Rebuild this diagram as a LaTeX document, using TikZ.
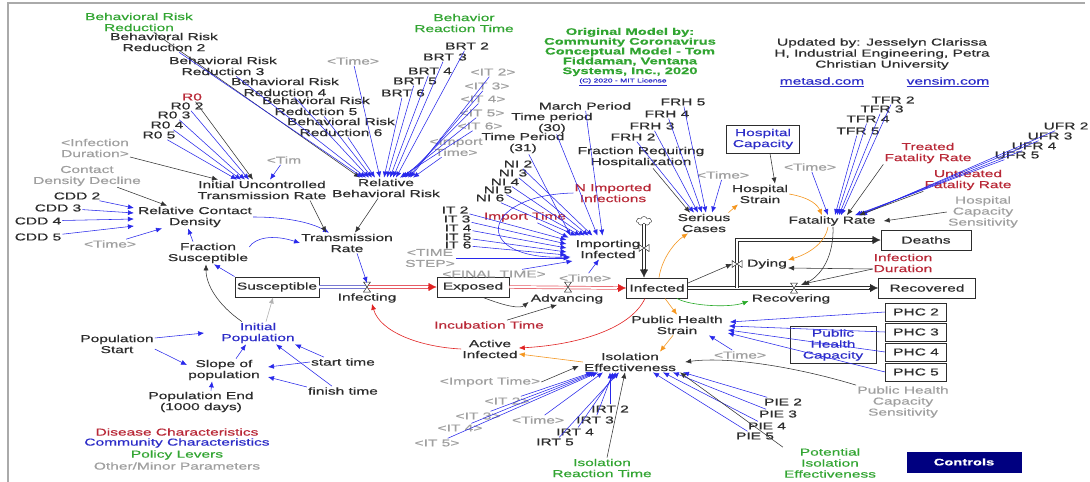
\documentclass[tikz,border=0pt]{standalone}
\usepackage{fontspec}
\setmainfont{Liberation Sans}[FakeStretch=1.55,FakeBold=0.6]
\usetikzlibrary{arrows.meta,shapes.symbols}
\definecolor{cdark}{RGB}{45,45,45}
\definecolor{cred}{RGB}{185,40,55}
\definecolor{cblue}{RGB}{45,45,200}
\definecolor{cgreen}{RGB}{50,165,50}
\definecolor{cgray}{RGB}{160,160,160}
\definecolor{lblue}{RGB}{40,40,235}
\definecolor{corange}{RGB}{245,150,30}
\definecolor{navy}{RGB}{0,0,128}
\definecolor{cframe}{RGB}{170,170,170}
\definecolor{redline}{RGB}{225,35,35}
\definecolor{redpipe}{RGB}{230,90,100}
\definecolor{bluepipe}{RGB}{120,120,210}
\definecolor{gline}{RGB}{40,170,40}
\begin{document}
\begin{tikzpicture}[x=1pt,y=-1pt,
  every node/.style={inner sep=1pt, align=center, text=cdark, font=\fontsize{10}{11}\selectfont},
  rd/.style={text=cred}, bu/.style={text=cblue}, gn/.style={text=cgreen}, gy/.style={text=cgray},
  stock/.style={draw=cdark, line width=0.9pt, minimum height=20pt, inner sep=1pt},
  vbox/.style={draw=cdark, line width=0.7pt, inner sep=1pt},
  ba/.style={draw=lblue, line width=0.55pt, -{Latex[length=6pt,width=5pt]}},
  ka/.style={draw=black!80, line width=0.55pt, -{Latex[length=6pt,width=5pt]}},
  oa/.style={draw=corange, line width=0.6pt, -{Latex[length=6pt,width=5pt]}},
  ra/.style={draw=redline, line width=0.6pt, -{Latex[length=6pt,width=5pt]}},
  ga/.style={draw=gline, line width=0.6pt, -{Latex[length=6pt,width=5pt]}},
  gya/.style={draw=black!30, line width=0.6pt, -{Latex[length=6pt,width=5pt]}},
  pipe/.style={double distance=2pt, line width=0.7pt},
  bigtip/.style={line width=0.3pt, -{Latex[length=8pt,width=8pt]}},
  hv/.pic={\draw[cdark, line width=0.5pt, fill=white] (-3.5,-5)--(3.5,-5)--(-3.5,5)--(3.5,5)--cycle;},
  vv/.pic={\draw[cdark, line width=0.5pt, fill=white] (-5,-3.5)--(-5,3.5)--(5,-3.5)--(5,3.5)--cycle;}
]
\useasboundingbox (0,0) rectangle (1090,482);
\fill[white] (0,0) rectangle (1090,482);
\draw[cframe, line width=1.5pt] (8,482) -- (8,3) -- (1085,3);

% ---------- top-left cluster ----------
\node[gn] (brr) at (139,22) {Behavioral Risk\\Reduction};
\node (brr2) at (164,42) {Behavioral Risk\\Reduction 2};
\node (brr3) at (223,66) {Behavioral Risk\\Reduction 3};
\node (brr4) at (285,87) {Behavioral Risk\\Reduction 4};
\node (brr5) at (316,106) {Behavioral Risk\\Reduction 5};
\node (brr6) at (341,127) {Behavioral Risk\\Reduction 6};
\node[gy] (tma) at (353,61) {<Time>};
\node[gn] (brt) at (464,23) {Behavior\\Reaction Time};
\node (brt2) at (467,46) {BRT 2};
\node (brt3) at (445,57) {BRT 3};
\node (brt4) at (430,71) {BRT 4};
\node (brt5) at (415,81) {BRT 5};
\node (brt6) at (403,93) {BRT 6};
\node[gy] (it2a) at (493,72) {<IT 2>};
\node[gy] (it3a) at (487,86) {<IT 3>};
\node[gy] (it4a) at (483,99) {<IT 4>};
\node[gy] (it5a) at (482,113) {<IT 5>};
\node[gy] (it6a) at (480,126) {<IT 6>};
\node[gy] (impta) at (456,147) {<Import\\Time>};
\node[rd] (r0) at (192,97) {R0};
\node (r02) at (187,106) {R0 2};
\node (r03) at (174,115) {R0 3};
\node (r04) at (167,125) {R0 4};
\node (r05) at (159,135) {R0 5};
\node[gy] (infda) at (95,148) {<Infection\\Duration>};
\node[gy] (tim) at (284,160) {<Tim};
\node (iutr) at (262,190) {Initial Uncontrolled\\Transmission Rate};
\node (rbr) at (386,188) {Relative\\Behavioral Risk};
\node[gy] (cdd) at (87,176) {Contact\\Density Decline};
\node (cdd2) at (77,196) {CDD 2};
\node (cdd3) at (58,208) {CDD 3};
\node (cdd4) at (38,221) {CDD 4};
\node (cdd5) at (38,237) {CDD 5};
\node (rcd) at (195,217) {Relative Contact\\Density};
\node[gy] (tmb) at (110,244) {<Time>};
\node (fs) at (208,253) {Fraction\\Susceptible};
\node (tr) at (347,243) {Transmission\\Rate};

% ---------- stocks and flows ----------
\node[stock, minimum width=84pt] (sus) at (277,287) {Susceptible};
\node[stock, minimum width=72pt] (exp) at (473,287) {Exposed};
\node[stock, minimum width=61pt] (inf) at (657,288) {Infected};
\node[stock, minimum width=90pt] (dea) at (926,240) {Deaths};
\node[stock, minimum width=97pt] (rec) at (927,288) {Recovered};
\node (infg) at (367,298) {Infecting};
\node (adv) at (567,299) {Advancing};
\node (dy) at (767,264) {Dying};
\node (rcv) at (791,299) {Recovering};
\node (impi) at (608,249) {Importing\\Infected};
\coordinate (vinf) at (367,287);
\coordinate (vadv) at (568,287);
\coordinate (vdy) at (737,264);
\coordinate (vrec) at (794,288);
\coordinate (vimp) at (644,248);
\coordinate (dj) at (737,288);
\coordinate (dk) at (737,240);
\node[cloud, draw=cdark, cloud puffs=7, minimum width=15pt, minimum height=9pt, inner sep=0pt] (cld) at (644,221) {};

\draw[pipe, bluepipe] (sus.east) -- (vinf);
\draw[pipe, redpipe] (vinf) -- ([xshift=-7pt]exp.west);
\draw[bigtip, redline] ([xshift=-9pt]exp.west) -- (exp.west);
\draw[pipe, redpipe] (exp.east) -- ([xshift=-7pt]inf.west);
\draw[bigtip, redline] ([xshift=-9pt]inf.west) -- (inf.west);
\draw[pipe, cdark] (inf.east) -- ([xshift=-7pt]rec.west);
\draw[bigtip, cdark] ([xshift=-9pt]rec.west) -- (rec.west);
\draw[pipe, cdark] (dj) -- (dk) -- ([xshift=-7pt]dea.west);
\draw[bigtip, cdark] ([xshift=-9pt]dea.west) -- (dea.west);
\draw[pipe, cdark] (cld.south) -- ([xshift=-13pt,yshift=7pt]inf.north);
\draw[bigtip, cdark] ([xshift=-13pt,yshift=9pt]inf.north) -- ([xshift=-13pt]inf.north);
\pic at (vinf) {hv};
\pic at (vadv) {hv};
\pic at (vrec) {hv};
\pic at (vdy) {vv};
\pic at (vimp) {vv};

% ---------- top middle ----------
\node[gn, font=\bfseries\fontsize{9.5}{9.8}\selectfont] (om) at (630,52) {Original Model by:\\Community Coronavirus\\Conceptual Model - Tom\\Fiddaman, Ventana\\Systems, Inc., 2020};
\node[bu, font=\fontsize{5.5}{6}\selectfont] (lic) at (623,82) {\underline{(C) 2020 - MIT License}};
\node (tp30) at (552,123) {Time period\\(30)};
\node (tp31) at (523,143) {Time Period\\(31)};
\node (mp) at (585,106) {March Period};
\node (frh5) at (683,102) {FRH 5};
\node (frh4) at (667,114) {FRH 4};
\node (frh3) at (652,126) {FRH 3};
\node (frh2) at (633,137) {FRH 2};
\node (frh) at (641,157) {Fraction Requiring\\Hospitalization};
\node[vbox, bu, minimum width=73pt, minimum height=28pt] (hc) at (763,139) {Hospital\\Capacity};
\node (upd) at (882,54) {Updated by: Jesselyn Clarissa\\H, Industrial Engineering, Petra\\Christian University};
\node[bu] (met) at (822,82) {\underline{metasd.com}};
\node[bu] (ven) at (948,82) {\underline{vensim.com}};
\node (tfr2) at (893,100) {TFR 2};
\node (tfr3) at (882,109) {TFR 3};
\node (tfr4) at (868,119) {TFR 4};
\node (tfr5) at (858,131) {TFR 5};
\node (ufr2) at (1066,126) {UFR 2};
\node (ufr3) at (1050,136) {UFR 3};
\node (ufr4) at (1034,146) {UFR 4};
\node (ufr5) at (1017,155) {UFR 5};
\node[rd] (tfr) at (928,153) {Treated\\Fatality Rate};
\node[rd] (ufr) at (968,180) {Untreated\\Fatality Rate};
\node[gy] (hcs) at (983,212) {Hospital\\Capacity\\Sensitivity};
\node (fr) at (832,221) {Fatality Rate};
\node[gy] (tmc) at (810,167) {<Time>};
\node (hs) at (760,194) {Hospital\\Strain};
\node[gy] (tmd) at (723,175) {<Time>};
\node (sc) at (704,223) {Serious\\Cases};
\node[rd] (nii) at (613,193) {N Imported\\Infections};
\node[rd] (imt) at (525,217) {Import Time};
\node (ni2) at (518,164) {NI 2};
\node (ni3) at (513,173) {NI 3};
\node (ni4) at (505,182) {NI 4};
\node (ni5) at (498,190) {NI 5};
\node (ni6) at (490,198) {NI 6};
\node (it2) at (455,210) {IT 2};
\node (it3) at (457,219) {IT 3};
\node (it4) at (458,228) {IT 4};
\node (it5) at (458,237) {IT 5};
\node (it6) at (458,245) {IT 6};
\node[gy] (ts) at (430,258) {<TIME\\STEP>};
\node[gy] (ft) at (494,274) {<FINAL TIME>};
\node[gy] (tme) at (585,278) {<Time>};
\node[rd] (idur) at (903,263) {Infection\\Duration};

% ---------- lower right ----------
\node[vbox, minimum width=61pt, minimum height=18pt] (phc2) at (916,312) {PHC 2};
\node[vbox, minimum width=61pt, minimum height=18pt] (phc3) at (916,332) {PHC 3};
\node[vbox, minimum width=61pt, minimum height=18pt] (phc4) at (916,352) {PHC 4};
\node[vbox, minimum width=61pt, minimum height=18pt] (phc5) at (916,372) {PHC 5};
\node[vbox, bu, minimum width=86pt, minimum height=37pt] (phcap) at (833,345) {Public\\Health\\Capacity};
\node[gy] (phcs) at (903,402) {Public Health\\Capacity\\Sensitivity};
\node (phs) at (677,325) {Public Health\\Strain};
\node[gy] (tmf) at (740,355) {<Time>};
\node (ie) at (630,362) {Isolation\\Effectiveness};
\node (ai) at (490,349) {Active\\Infected};
\node[rd] (inc) at (489,325) {Incubation Time};
\node[gy] (imptb) at (490,382) {<Import Time>};
\node[gy] (it2b) at (507,401) {<IT 2>};
\node[gy] (it3b) at (478,416) {<IT 3>};
\node[gy] (it4b) at (460,428) {<IT 4>};
\node[gy] (it5b) at (437,443) {<IT 5>};
\node[gy] (tmg) at (538,420) {<Time>};
\node (irt2) at (610,409) {IRT 2};
\node (irt3) at (595,420) {IRT 3};
\node (irt4) at (575,432) {IRT 4};
\node (irt5) at (555,442) {IRT 5};
\node[gn] (irt) at (602,468) {Isolation\\Reaction Time};
\node (pie2) at (783,402) {PIE 2};
\node (pie3) at (778,414) {PIE 3};
\node (pie4) at (767,426) {PIE 4};
\node (pie5) at (755,436) {PIE 5};
\node[gn] (pie) at (830,463) {Potential\\Isolation\\Effectiveness};
\node[fill=navy, text=white, minimum width=115pt, minimum height=21pt, font=\bfseries\fontsize{9.5}{10}\selectfont] (ctrl) at (964,462) {Controls};

% ---------- lower left ----------
\node[rd] (lg1) at (177,432) {Disease Characteristics};
\node[bu] (lg2) at (177,443) {Community Characteristics};
\node[gn] (lg3) at (177,455) {Policy Levers};
\node[gy] (lg4) at (177,466) {Other/Minor Parameters};
\node (ps) at (117,344) {Population\\Start};
\node[bu] (ip) at (258,333) {Initial\\Population};
\node (sp) at (224,370) {Slope of\\population};
\node (st) at (343,362) {start time};
\node (fin) at (343,391) {finish time};
\node (pe) at (201,402) {Population End\\(1000 days)};

% ---------- connectors: Relative Behavioral Risk ----------
\draw[ka] (brr) -- ([xshift=-26pt]rbr.north);
\draw[ba] (brr2) -- ([xshift=-23pt]rbr.north);
\draw[ba] (brr3) -- ([xshift=-20pt]rbr.north);
\draw[ba] (brr4) -- ([xshift=-17pt]rbr.north);
\draw[ba] (brr5) -- ([xshift=-14pt]rbr.north);
\draw[ba] (brr6) -- ([xshift=-11pt]rbr.north);
\draw[ba] (tma) -- ([xshift=-6pt]rbr.north);
\draw[ba] (brt2) -- ([xshift=10pt]rbr.north);
\draw[ba] (brt3) -- ([xshift=7pt]rbr.north);
\draw[ba] (brt4) -- ([xshift=4pt]rbr.north);
\draw[ba] (brt5) -- ([xshift=1pt]rbr.north);
\draw[ba] (brt6) -- ([xshift=-2pt]rbr.north);
\draw[ba] (it2a) -- ([xshift=24pt]rbr.north);
\draw[ba] (it3a) -- ([xshift=22pt]rbr.north);
\draw[ba] (it4a) -- ([xshift=19pt]rbr.north);
\draw[ba] (it5a) -- ([xshift=16pt]rbr.north);
\draw[ba] (it6a) -- ([xshift=14pt]rbr.north);
\draw[ba] (impta) -- ([xshift=27pt]rbr.north);

% ---------- Initial Uncontrolled Transmission Rate ----------
\draw[ka] (r0) -- ([xshift=-9pt]iutr.north);
\draw[ba] (r02) -- ([xshift=-13pt]iutr.north);
\draw[ba] (r03) -- ([xshift=-17pt]iutr.north);
\draw[ba] (r04) -- ([xshift=-21pt]iutr.north);
\draw[ba] (r05) -- ([xshift=-25pt]iutr.north);
\draw[ka] (infda) -- ([xshift=-44pt]iutr.north);
\draw[ba] (tim) -- ([xshift=8pt]iutr.north);

% ---------- Relative Contact Density ----------
\draw[ka] (cdd) -- ([xshift=-28pt]rcd.north);
\draw[ba] (cdd2) -- ([xshift=-3pt,yshift=9pt]rcd.west);
\draw[ba] (cdd3) -- ([xshift=-3pt,yshift=4pt]rcd.west);
\draw[ba] (cdd4) -- ([xshift=-3pt,yshift=-2pt]rcd.west);
\draw[ba] (cdd5) -- ([xshift=-3pt,yshift=-9pt]rcd.west);
\draw[ba] (tmb) -- ([xshift=-33pt]rcd.south);
\draw[ba] ([xshift=-15pt]fs.north) -- ([xshift=-7pt]rcd.south);
\draw[ba] (sus.north west) -- ([xshift=6pt]fs.south);
\draw[ka] ([xshift=-16pt]ip.north) .. controls (218,305) and (206,285) .. ([xshift=-2pt]fs.south);
\draw[gya] ([xshift=8pt]ip.north) -- ([xshift=-4pt]sus.south);

% ---------- Transmission Rate ----------
\draw[ba] (rcd.east) .. controls (285,217) and (310,222) .. ([xshift=-18pt]tr.north);
\draw[ba] ([yshift=6pt]fs.east) .. controls (255,238) and (272,234) .. (tr.west);
\draw[ka] ([xshift=48pt]iutr.south) -- ([xshift=-21pt]tr.north);
\draw[ka] ([xshift=-8pt]rbr.south) -- ([xshift=8pt]tr.north);
\draw[ba] ([xshift=10pt]tr.south) -- ([yshift=4pt]vinf);

% ---------- Infecting / Advancing ----------
\draw[ra] (ai.west) .. controls (420,347) and (380,332) .. ([xshift=5pt]infg.south);
\draw[ra] ([xshift=-12pt]inf.south) .. controls (630,330) and (575,345) .. ([yshift=1pt]ai.east);
\draw[ka] ([xshift=10pt]exp.south) .. controls (505,306) and (520,309) .. ([xshift=-1pt,yshift=-3pt]adv.west);
\draw[ka] ([xshift=18pt]inc.north) -- ([xshift=-10pt]adv.south);
\draw[oa] (ie.west) -- ([yshift=-5pt]ai.east);
\draw[ka] (imptb.east) -- ([xshift=-4pt,yshift=-4pt]ie.west);

% ---------- Importing Infected ----------
\draw[ba] (mp) -- ([xshift=28pt,yshift=3pt]impi.north west);
\draw[ba] (tp30) -- ([xshift=23pt,yshift=3pt]impi.north west);
\draw[ba] (tp31) -- ([xshift=-4pt,yshift=3pt]impi.north west);
\draw[ba] (ni2) -- ([xshift=18pt,yshift=3pt]impi.north west);
\draw[ba] (ni3) -- ([xshift=14pt,yshift=3pt]impi.north west);
\draw[ba] (ni4) -- ([xshift=10pt,yshift=3pt]impi.north west);
\draw[ba] (ni5) -- ([xshift=6pt,yshift=3pt]impi.north west);
\draw[ba] (ni6) -- ([xshift=2pt,yshift=3pt]impi.north west);
\draw[ba] (imt) -- ([xshift=-6pt,yshift=1pt]impi.north west);
\draw[ba] (it2) -- ([xshift=-8pt,yshift=9pt]impi.west);
\draw[ba] (it3) -- ([xshift=-8pt,yshift=5pt]impi.west);
\draw[ba] (it4) -- ([xshift=-8pt,yshift=1pt]impi.west);
\draw[ba] (it5) -- ([xshift=-8pt,yshift=-3pt]impi.west);
\draw[ba] (it6) -- ([xshift=-8pt,yshift=-6pt]impi.west);
\draw[ba] (ts) -- ([xshift=-5pt,yshift=-9pt]impi.west);
\draw[ba] (ft) -- ([xshift=-2pt,yshift=-12pt]impi.west);
\draw[ba] (nii.west) .. controls (480,195) and (470,260) .. ([xshift=-4pt,yshift=-8pt]impi.west);
\draw[ba] (tme) -- ([xshift=-9pt]impi.south);

% ---------- Serious Cases / Hospital ----------
\draw[ka] ([xshift=12pt]frh.south) -- ([xshift=-14pt]sc.north);
\draw[ba] (frh2) -- ([xshift=-10pt]sc.north);
\draw[ba] (frh3) -- ([xshift=-6pt]sc.north);
\draw[ba] (frh4) -- ([xshift=-2pt]sc.north);
\draw[ba] (frh5) -- ([xshift=2pt]sc.north);
\draw[ba] (tmd) -- ([xshift=8pt]sc.north);
\draw[oa] ([xshift=2pt]inf.north) .. controls (662,258) and (675,242) .. ([xshift=-16pt]sc.south);
\draw[oa] ([xshift=-3pt]sc.north east) -- ([xshift=-22pt]hs.south);
\draw[ka] ([xshift=7pt]hc.south) -- ([xshift=15pt]hs.north);
\draw[oa] (hs.east) .. controls (812,198) and (818,206) .. ([xshift=-10pt]fr.north);

% ---------- Fatality Rate ----------
\draw[ba] (tmc) -- ([xshift=-4pt]fr.north);
\draw[ba] (tfr2) -- ([xshift=9pt]fr.north);
\draw[ba] (tfr3) -- ([xshift=7pt]fr.north);
\draw[ba] (tfr4) -- ([xshift=5pt]fr.north);
\draw[ba] (tfr5) -- ([xshift=3pt]fr.north);
\draw[ka] (tfr.south west) -- ([xshift=15pt]fr.north);
\draw[ba] (ufr2) -- ([xshift=29pt]fr.north);
\draw[ba] (ufr3) -- ([xshift=27pt]fr.north);
\draw[ba] (ufr4) -- ([xshift=25pt]fr.north);
\draw[ba] (ufr5) -- ([xshift=23pt]fr.north);
\draw[ka] (ufr.south west) -- ([xshift=27pt]fr.north);
\draw[ka] (hcs.west) -- ([xshift=7pt]fr.east);
\draw[oa] ([xshift=-4pt]fr.south) .. controls (825,245) and (805,255) .. ([yshift=4pt]dy.east);
\draw[ka] ([xshift=1pt]fr.south) .. controls (834,255) and (822,276) .. ([xshift=7pt,yshift=3pt]vrec);
\draw[ka] ([yshift=-6pt]idur.west) -- ([yshift=-4pt]dy.east);
\draw[ka] ([yshift=-6pt]idur.west) -- ([xshift=9pt,yshift=4pt]vrec);
\draw[ka] ([yshift=5pt]inf.east) -- ([xshift=-5pt]vdy);
\draw[ga] ([xshift=20pt]inf.south) .. controls (690,306) and (730,308) .. ([xshift=-2pt,yshift=-2pt]rcv.west);

% ---------- Public Health Strain / Isolation ----------
\draw[oa] ([xshift=8pt]inf.south) -- (phs.north);
\draw[ba] (phc2.west) -- ([xshift=6pt,yshift=3pt]phs.east);
\draw[ba] (phc3.west) -- ([xshift=5pt,yshift=-1pt]phs.east);
\draw[ba] (phc4.west) -- ([xshift=4pt,yshift=-5pt]phs.east);
\draw[ba] (phc5.west) -- ([xshift=4pt,yshift=-8pt]phs.east);
\draw[ba] (tmf) -- ([xshift=-15pt]phs.south east);
\draw[oa] ([xshift=-4pt]phs.south) -- ([xshift=30pt]ie.north);
\draw[ka] (phcs.north west) .. controls (800,368) and (730,356) .. ([xshift=8pt]ie.east);
\draw[ba] (it2b) -- ([xshift=-38pt]ie.south);
\draw[ba] (it3b) -- ([xshift=-36pt]ie.south);
\draw[ba] (it4b) -- ([xshift=-34pt]ie.south);
\draw[ba] (it5b) -- ([xshift=-32pt]ie.south);
\draw[ba] (tmg) -- ([xshift=-27pt]ie.south);
\draw[ba] (irt2) -- ([xshift=-20pt]ie.south);
\draw[ba] (irt3) -- ([xshift=-17pt]ie.south);
\draw[ba] (irt4) -- ([xshift=-14pt]ie.south);
\draw[ba] (irt5) -- ([xshift=-11pt]ie.south);
\draw[ka] ([xshift=5pt]irt.north) -- ([xshift=-5pt]ie.south);
\draw[ba] (pie2) -- ([xshift=53pt]ie.south);
\draw[ba] (pie3) -- ([xshift=43pt]ie.south);
\draw[ba] (pie4) -- ([xshift=33pt]ie.south);
\draw[ba] (pie5) -- ([xshift=23pt]ie.south);
\draw[ka] (pie.north west) -- ([xshift=50pt]ie.south);

% ---------- Population ----------
\draw[ba] ([yshift=6pt]ps.east) -- ([xshift=-16pt]ip.west);
\draw[ba] ([yshift=-5pt]ps.east) -- ([yshift=5pt]sp.west);
\draw[ba] ([xshift=12pt]sp.north) -- ([xshift=-12pt]ip.south);
\draw[ba] ([xshift=14pt]st.north west) -- ([xshift=37pt]ip.south);
\draw[ba] (st.west) -- ([xshift=7pt,yshift=3pt]sp.east);
\draw[ba] ([yshift=4pt]fin.west) -- ([xshift=7pt,yshift=-7pt]sp.east);
\draw[ba] ([xshift=25pt]fin.north west) -- ([xshift=18pt]ip.south);
\draw[ba] ([xshift=10pt]pe.north) -- ([xshift=-12pt]sp.south);
\end{tikzpicture}
\end{document}
